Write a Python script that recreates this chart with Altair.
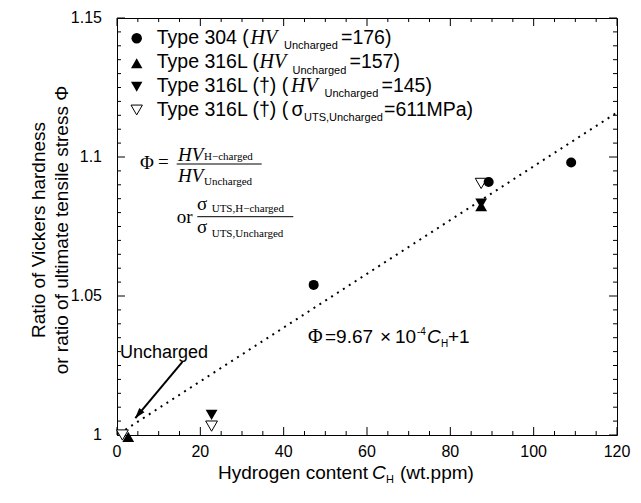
import altair as alt
import pandas as pd

# ---------------- data ----------------
t304_ch = [47.2, 89.2, 109.0]
t304_phi = [1.054, 1.091, 1.098]
t316_ch = [2.7, 87.4]
t316_phi = [0.9993, 1.0823]
t316d_hv_ch = [22.7, 87.4]
t316d_hv_phi = [1.0072, 1.0832]
t316d_uts_ch = [1.3, 22.7, 87.4]
t316d_uts_phi = [1.0, 1.0032, 1.0905]
fit_ch = [2.0, 120.0]
fit_phi = [1.0019, 1.116]
arrow_ch = [15.7, 4.4]
arrow_phi = [1.0263, 1.0061]
arrow_head_ch = [5.16]
arrow_head_phi = [1.0075]
x_major = [0, 20, 40, 60, 80, 100, 120]
x_labels = ["0", "20", "40", "60", "80", "100", "120"]
y_major = [1.0, 1.05, 1.1, 1.15]
y_labels = ["1", "1.05", "1.1", "1.15"]
x_minor = [v for v in range(0, 121, 5) if v % 20]
y_minor = [round(1 + 0.005 * i, 3) for i in range(31) if i % 10]

SANS = "Liberation Sans"
SERIF = "Liberation Serif"
W, H = 500, 417
X0, Y0 = 117, 18  # page position of the plot area

XS = alt.Scale(domain=[0, 120], nice=False, zero=False)
YS = alt.Scale(domain=[1.0, 1.15], nice=False, zero=False)


def pts(ch, phi):
    return alt.Chart(pd.DataFrame({"ch": ch, "phi": phi}))


def enc():
    return dict(x=alt.X("ch:Q", scale=XS, axis=None),
                y=alt.Y("phi:Q", scale=YS, axis=None))


# tick labels, placed through the scales
xlab = alt.Chart(pd.DataFrame({"v": x_major, "t": x_labels})).mark_text(
    align="center", baseline="top", font=SANS, fontSize=16, color="black").encode(
    x=alt.X("v:Q", scale=XS, axis=None), y=alt.value(H + 9), text="t:N")
ylab = alt.Chart(pd.DataFrame({"v": y_major, "t": y_labels})).mark_text(
    align="right", baseline="middle", font=SANS, fontSize=16, color="black").encode(
    y=alt.Y("v:Q", scale=YS, axis=None), x=alt.value(-15), text="t:N")


# inward tick marks on all four sides (major and minor)
def xticks(vals, length, top):
    y1, y2 = (0, length) if top else (H, H - length)
    return alt.Chart(pd.DataFrame({"v": vals})).mark_rule(color="black", strokeWidth=1).encode(
        x=alt.X("v:Q", scale=XS, axis=None), y=alt.value(y1), y2=alt.value(y2))


def yticks(vals, length, right):
    x1, x2 = (W, W - length) if right else (0, length)
    return alt.Chart(pd.DataFrame({"v": vals})).mark_rule(color="black", strokeWidth=1).encode(
        y=alt.Y("v:Q", scale=YS, axis=None), x=alt.value(x1), x2=alt.value(x2))


tick_layers = [
    xticks(x_major, 8, False), xticks(x_minor, 4, False),
    xticks(x_major, 8, True), xticks(x_minor, 4, True),
    yticks(y_major, 8, False), yticks(y_minor, 4, False),
    yticks(y_major, 8, True), yticks(y_minor, 4, True),
]

fit = pts(fit_ch, fit_phi).mark_line(color="black", strokeWidth=2,
                                      strokeDash=[2, 5]).encode(**enc())
arrow = pts(arrow_ch, arrow_phi).mark_line(color="black", strokeWidth=2).encode(**enc())
arrow_head = pts(arrow_head_ch, arrow_head_phi).mark_point(
    shape="M0,-1L-0.65,1L0.65,1Z", filled=True, color="black", opacity=1,
    size=110, angle=220, clip=False).encode(**enc())

circles = pts(t304_ch, t304_phi).mark_point(
    shape="circle", filled=True, color="black", opacity=1, size=100, clip=False).encode(**enc())
tri_up = pts(t316_ch, t316_phi).mark_point(
    shape="triangle-up", filled=True, color="black", opacity=1, size=140, clip=False).encode(**enc())
tri_dn = pts(t316d_hv_ch, t316d_hv_phi).mark_point(
    shape="triangle-down", filled=True, color="black", opacity=1, size=140, clip=False).encode(**enc())
tri_open = pts(t316d_uts_ch, t316d_uts_phi).mark_point(
    shape="triangle-down", filled=True, fill="white", stroke="black", strokeWidth=1,
    opacity=1, size=140, clip=False).encode(**enc())

# ---------------- annotation text pieces (page pixels) ----------------
# (text, left x, baseline y, font size, font, style)
L = 19.5
pieces = [
    # legend
    ("Type 304 (", 156.7, 44, L, SANS, "normal"),
    ("HV", 250.5, 44, 20, SERIF, "italic"),
    ("Uncharged", 284, 49.3, 11, SANS, "normal"),
    ("=176)", 341, 44, L, SANS, "normal"),
    ("Type 316L (", 156.7, 68.3, L, SANS, "normal"),
    ("HV", 259.5, 68.3, 20, SERIF, "italic"),
    ("Uncharged", 292.5, 73.6, 11, SANS, "normal"),
    ("=157)", 349.5, 68.3, L, SANS, "normal"),
    ("Type 316L (\u2020) (", 156.7, 92, L, SANS, "normal"),
    ("HV", 291, 92, 20, SERIF, "italic"),
    ("Uncharged", 324.5, 97.3, 11, SANS, "normal"),
    ("=145)", 381.5, 92, L, SANS, "normal"),
    ("Type 316L (\u2020) (", 156.7, 116, L, SANS, "normal"),
    ("\u03c3", 291.5, 116, L, SANS, "normal"),
    ("UTS,Uncharged", 304, 121.3, 11, SANS, "normal"),
    ("=611MPa)", 384, 116, L, SANS, "normal"),
    # definition of Phi
    ("\u03a6", 140, 168.5, 19, SERIF, "normal"),
    ("=", 158, 168, 19, SERIF, "normal"),
    ("HV", 178, 160.5, 19, SERIF, "italic"),
    ("H\u2212charged", 204, 159.5, 11, SERIF, "normal"),
    ("HV", 178, 181.7, 19, SERIF, "italic"),
    ("Uncharged", 204, 184.5, 11, SERIF, "normal"),
    ("or", 176.7, 222.7, 19, SERIF, "normal"),
    ("\u03c3", 197, 210, 19, SERIF, "normal"),
    ("UTS,H\u2212charged", 211.7, 212.3, 11, SERIF, "normal"),
    ("\u03c3", 197, 233.3, 19, SERIF, "normal"),
    ("UTS,Uncharged", 211.7, 236.7, 11, SERIF, "normal"),
    # fitted equation
    ("\u03a6", 308, 343.3, 20, SERIF, "normal"),
    ("=9.67", 325, 343.3, 19, SANS, "normal"),
    ("\u00d7", 380, 343.3, 19, SANS, "normal"),
    ("10", 395, 343.3, 19, SANS, "normal"),
    ("-4", 417, 335, 10, SANS, "normal"),
    ("C", 427, 343.3, 19, SANS, "italic"),
    ("H", 441, 347, 10, SANS, "normal"),
    ("+1", 448, 343.3, 19, SANS, "normal"),
    # arrow label
    ("Uncharged", 120, 358, 18, SANS, "normal"),
    # x axis title
    ("Hydrogen content", 218, 479, 19, SANS, "normal"),
    ("C", 372, 479, 19, SANS, "italic"),
    ("H", 386, 483, 11, SANS, "normal"),
    ("(wt.ppm)", 400, 479, 19, SANS, "normal"),
]
tdf = pd.DataFrame(pieces, columns=["text", "px", "py", "size", "font", "style"])
tdf["px"] = tdf["px"] - X0
tdf["py"] = tdf["py"] - Y0

text_layers = []
for (font, style), g in tdf.groupby(["font", "style"]):
    text_layers.append(
        alt.Chart(g).mark_text(align="left", baseline="alphabetic", font=font,
                               fontStyle=style, color="black").encode(
            x=alt.X("px:Q", scale=None, axis=None),
            y=alt.Y("py:Q", scale=None, axis=None),
            text="text:N",
            size=alt.Size("size:Q", scale=None, legend=None)))

# legend markers
leg = pd.DataFrame({
    "px": [136.7 - X0] * 4,
    "py": [38.3 - Y0, 63.3 - Y0, 86.7 - Y0, 110 - Y0],
    "k": ["a", "b", "c", "d"]})
legend_marks = []
for k, shape, open_ in [("a", "circle", False), ("b", "triangle-up", False),
                        ("c", "triangle-down", False), ("d", "triangle-down", True)]:
    kw = dict(shape=shape, filled=True, opacity=1, size=110 if shape == "circle" else 130)
    if open_:
        kw.update(fill="white", stroke="black", strokeWidth=1)
    else:
        kw.update(color="black")
    legend_marks.append(
        alt.Chart(leg[leg.k == k]).mark_point(**kw).encode(
            x=alt.X("px:Q", scale=None, axis=None),
            y=alt.Y("py:Q", scale=None, axis=None)))

# fraction bars
frac = pd.DataFrame({"x1": [176.7 - X0, 197.3 - X0], "x2": [261.7 - X0, 293.3 - X0],
                     "y": [164 - Y0, 216.7 - Y0]})
frac_rules = alt.Chart(frac).mark_rule(color="black", strokeWidth=1).encode(
    x=alt.X("x1:Q", scale=None, axis=None), x2="x2:Q",
    y=alt.Y("y:Q", scale=None, axis=None))

# y axis title (two lines)
ytitle = alt.Chart(pd.DataFrame({"a": [0]})).mark_text(
    text=["Ratio of Vickers hardness", "or ratio of ultimate tensile stress \u03a6"],
    angle=270, align="center", baseline="middle", font=SANS, fontSize=19,
    lineHeight=23, color="black").encode(x=alt.value(38.5 - X0), y=alt.value(230 - Y0))

chart = alt.layer(
    *tick_layers, xlab, ylab, fit, arrow, arrow_head, tri_open, circles, tri_up, tri_dn,
    *text_layers, *legend_marks, frac_rules, ytitle
).properties(
    width=W, height=H,
    autosize=alt.AutoSizeParams(type="none"),
    padding={"left": X0 - 8, "top": Y0 - 8, "right": 14, "bottom": 56},
    background="white",
).configure_view(stroke="black", strokeWidth=1)

chart.save("out.html", embed_options={"renderer": "svg", "actions": False})
